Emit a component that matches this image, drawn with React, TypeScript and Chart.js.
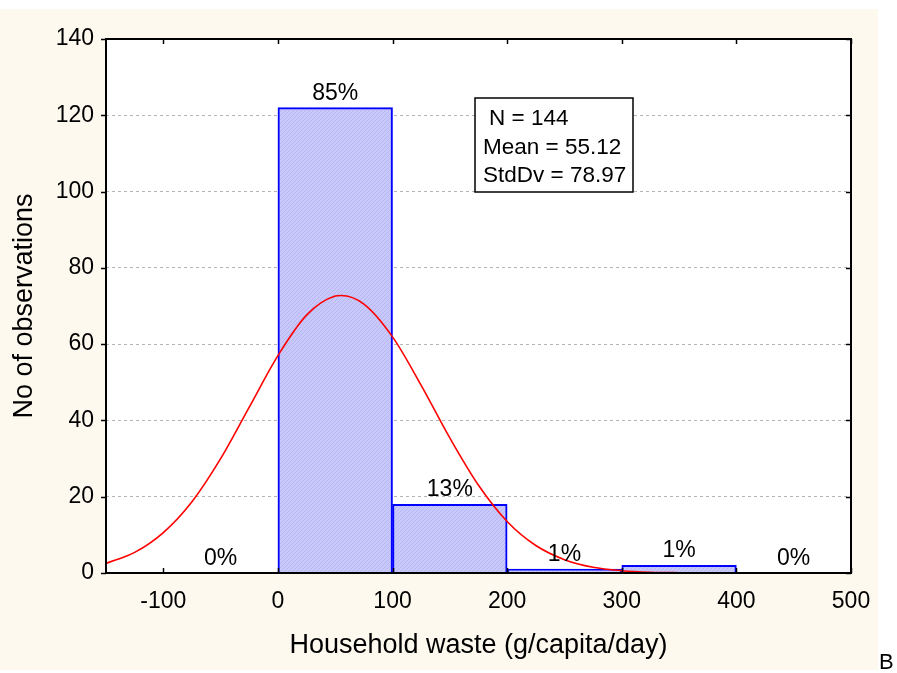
import React, { useEffect, useRef } from 'react';
import { Chart, registerables } from 'chart.js';

Chart.register(...registerables);

// ---- data ----
const binCenters = [-50, 50, 150, 250, 350, 450];
const binCounts = [0, 122, 18, 1, 2, 0];
const binPercentLabels = ['0%', '85%', '13%', '1%', '1%', '0%'];

const curveX = [-150, -125, -100, -75, -50, -25, 0, 25, 50, 55, 75, 100, 125, 150, 175, 200, 225, 250, 275, 300, 325, 350, 375, 400, 425, 450, 475, 500];
const curveY = [2.5, 5.4, 10.6, 18.7, 30.0, 43.5, 57.0, 67.6, 72.6, 72.75, 70.5, 61.9, 49.2, 35.4, 23.0, 13.5, 7.2, 3.5, 1.5, 0.6, 0.2, 0.07, 0.02, 0, 0, 0, 0, 0];

const xTickValues = [-100, 0, 100, 200, 300, 400, 500];
const yTickValues = [0, 20, 40, 60, 80, 100, 120, 140];

const statsLines = ['N = 144', 'Mean = 55.12', 'StdDv = 78.97'];
const xTitle = 'Household waste (g/capita/day)';
const yTitle = 'No of observations';
const cornerLabel = 'B';

const FONT = '"Liberation Sans", Arial, sans-serif';

function makeHatch(ctx: CanvasRenderingContext2D): CanvasPattern | string {
  const c = document.createElement('canvas');
  c.width = 4;
  c.height = 4;
  const g = c.getContext('2d');
  if (!g) return '#c4c4f8';
  g.fillStyle = '#c8c8fb';
  g.fillRect(0, 0, 4, 4);
  g.fillStyle = '#b7b7f3';
  for (let i = 0; i < 4; i++) g.fillRect(3 - i, i, 1, 1);
  return ctx.createPattern(c, 'repeat') || '#c4c4f8';
}

export default function App() {
  const ref = useRef<HTMLCanvasElement | null>(null);

  useEffect(() => {
    const canvas = ref.current;
    if (!canvas) return;
    const ctx0 = canvas.getContext('2d')!;
    const hatch = makeHatch(ctx0);

    const bgPlugin = {
      id: 'bg',
      beforeDraw(chart: any) {
        const { ctx, chartArea } = chart;
        ctx.save();
        ctx.fillStyle = '#ffffff';
        ctx.fillRect(0, 0, chart.width, chart.height);
        ctx.fillStyle = '#fdf9ef';
        ctx.fillRect(0, 9, 878, 661);
        ctx.fillStyle = '#ffffff';
        ctx.fillRect(chartArea.left, chartArea.top, chartArea.right - chartArea.left, chartArea.bottom - chartArea.top);
        ctx.restore();
      },
    };

    const overlayPlugin = {
      id: 'overlay',
      afterDatasetsDraw(chart: any) {
        const { ctx, chartArea } = chart;
        const xs = chart.scales.x;
        const ys = chart.scales.y;
        const { left, right, top, bottom } = chartArea;
        ctx.save();

        // percent labels
        ctx.fillStyle = '#000';
        ctx.font = `23px ${FONT}`;
        ctx.textAlign = 'center';
        ctx.textBaseline = 'alphabetic';
        const meta = chart.getDatasetMeta(0);
        meta.data.forEach((bar: any, i: number) => {
          ctx.fillText(binPercentLabels[i], bar.x, bar.y - 8);
        });

        // frame
        ctx.strokeStyle = '#000';
        ctx.lineWidth = 2;
        ctx.strokeRect(left, top, right - left, bottom - top);

        // ticks
        ctx.lineWidth = 1.5;
        ctx.beginPath();
        xTickValues.forEach((v) => {
          const px = Math.round(xs.getPixelForValue(v)) + 0.5;
          ctx.moveTo(px, bottom);
          ctx.lineTo(px, bottom - 5);
          ctx.moveTo(px, top);
          ctx.lineTo(px, top + 5);
        });
        yTickValues.forEach((v) => {
          const py = Math.round(ys.getPixelForValue(v)) + 0.5;
          ctx.moveTo(left, py);
          ctx.lineTo(left - 5, py);
          ctx.moveTo(right, py);
          ctx.lineTo(right - 5, py);
        });
        ctx.stroke();

        // stats box
        const bx = left + 369;
        const by = top + 59;
        const bw = 158;
        const bh = 94;
        ctx.fillStyle = '#fff';
        ctx.fillRect(bx, by, bw, bh);
        ctx.strokeStyle = '#000';
        ctx.lineWidth = 1.5;
        ctx.strokeRect(bx, by, bw, bh);
        ctx.fillStyle = '#000';
        ctx.textAlign = 'left';
        ctx.font = `22.5px ${FONT}`;
        ctx.fillText(statsLines[0], bx + 14, by + 27);
        ctx.fillText(statsLines[1], bx + 8, by + 55.5);
        ctx.fillText(statsLines[2], bx + 8, by + 84);

        // corner label
        ctx.font = `22px ${FONT}`;
        ctx.fillText(cornerLabel, 879, 669);
        ctx.restore();
      },
    };

    const chart = new Chart(canvas, {
      type: 'bar',
      data: {
        datasets: [
          {
            type: 'bar',
            data: binCenters.map((x, i) => ({ x, y: binCounts[i] })),
            backgroundColor: hatch as any,
            borderColor: '#0000ff',
            borderWidth: 2,
            barPercentage: 1,
            categoryPercentage: 1,
            order: 2,
          },
          {
            type: 'line',
            data: curveX.map((x, i) => ({ x, y: curveY[i] })),
            borderColor: '#ff0000',
            borderWidth: 1.6,
            pointRadius: 0,
            cubicInterpolationMode: 'monotone',
            fill: false,
            order: 1,
          },
        ] as any,
      },
      options: {
        responsive: false,
        animation: false,
        devicePixelRatio: 1,
        layout: { padding: { top: 39, right: 46, left: 0, bottom: 0 } },
        plugins: {
          legend: { display: false },
          tooltip: { enabled: false },
        },
        scales: {
          x: {
            type: 'linear',
            min: -150,
            max: 500,
            offset: false,
            grid: { display: false, offset: false },
            border: { display: false },
            afterBuildTicks: (scale: any) => {
              scale.ticks = xTickValues.map((v) => ({ value: v }));
            },
            afterFit: (scale: any) => {
              scale.height = 100;
            },
            ticks: {
              color: '#000',
              font: { family: FONT, size: 23 },
              padding: 7,
              maxRotation: 0,
              autoSkip: false,
              callback: (v: any) => String(v),
            },
            title: {
              display: true,
              text: xTitle,
              color: '#000',
              font: { family: FONT, size: 27 },
              padding: { top: 0, bottom: 11 },
            },
          },
          y: {
            type: 'linear',
            min: 0,
            max: 140,
            afterBuildTicks: (scale: any) => {
              scale.ticks = yTickValues.map((v) => ({ value: v }));
            },
            afterFit: (scale: any) => {
              scale.width = 106;
            },
            grid: { color: '#b4b4b4', lineWidth: 1, drawTicks: false },
            border: { display: false, dash: [3, 3] },
            ticks: {
              color: '#000',
              font: { family: FONT, size: 23 },
              padding: 12,
            },
            title: {
              display: true,
              text: yTitle,
              color: '#000',
              font: { family: FONT, size: 27 },
              padding: { top: 8, bottom: 0 },
            },
          },
        },
      } as any,
      plugins: [bgPlugin, overlayPlugin],
    });

    return () => chart.destroy();
  }, []);

  return (
    <div style={{ position: 'absolute', left: 0, top: 0, width: 897, height: 673 }}>
      <canvas ref={ref} width={897} height={673} style={{ display: 'block' }} />
    </div>
  );
}
